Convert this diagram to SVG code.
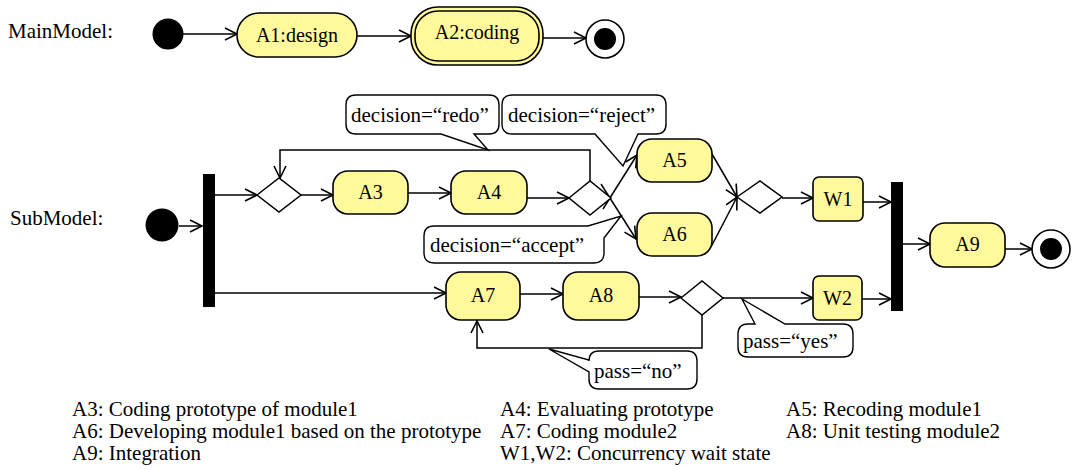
<svg xmlns="http://www.w3.org/2000/svg" width="1074" height="469" viewBox="0 0 1074 469">
<defs>
<marker id="arr" markerUnits="userSpaceOnUse" markerWidth="16" markerHeight="16" refX="13" refY="7" orient="auto">
<path d="M1,1 L13,7 L1,13" fill="none" stroke="#000" stroke-width="1.6"/>
</marker>
<style>
text{font-family:'Liberation Serif','Times New Roman',serif;fill:#000}
.lbl{font-size:20px;text-anchor:middle}
.node{fill:#fff99c;stroke:#000;stroke-width:1.6}
.c{fill:none;stroke:#000;stroke-width:1.5;marker-end:url(#arr)}
.dia{fill:#fff;stroke:#000;stroke-width:1.5}
.call{fill:#fff;stroke:#000;stroke-width:1.4}
.ct{font-size:21px}
.leg{font-size:21px}
</style>
</defs>
<rect width="1074" height="469" fill="#fff"/>

<text x="8" y="38" font-size="21">MainModel:</text>
<text x="10" y="225" font-size="21">SubModel:</text>

<g id="connectors">
<line class="c" x1="183" y1="34" x2="237" y2="34"/>
<line class="c" x1="357" y1="36" x2="411" y2="36"/>
<line class="c" x1="543" y1="38" x2="586" y2="38"/>
<line class="c" x1="179" y1="226" x2="202" y2="226"/>
<line class="c" x1="215" y1="195" x2="257" y2="195"/>
<line class="c" x1="301" y1="195" x2="333" y2="195"/>
<line class="c" x1="408" y1="193" x2="451" y2="193"/>
<line class="c" x1="527" y1="198" x2="569" y2="198"/>
<path class="c" d="M590,181 V150 H280 V178"/>
<line class="c" x1="603" y1="209" x2="637" y2="155"/>
<line class="c" x1="601" y1="184" x2="636" y2="239"/>
<line class="c" x1="712" y1="154" x2="737" y2="197"/>
<line class="c" x1="711" y1="247" x2="737" y2="197"/>
<line class="c" x1="782" y1="198" x2="813" y2="198"/>
<line class="c" x1="863" y1="202" x2="891" y2="202"/>
<line class="c" x1="903" y1="244" x2="930" y2="244"/>
<line class="c" x1="1005" y1="249" x2="1032" y2="249"/>
<line class="c" x1="215" y1="293" x2="446" y2="293"/>
<line class="c" x1="520" y1="294" x2="563" y2="294"/>
<line class="c" x1="639" y1="297" x2="681" y2="297"/>
<line class="c" x1="723" y1="298" x2="813" y2="298"/>
<line class="c" x1="862" y1="299" x2="891" y2="299"/>
<path class="c" d="M702,315 V348 H477 V321"/>
</g>

<g id="callouts">
<g id="c-redo">
<path class="call" d="M356,95 H489 Q499,95 499,105 V124 Q499,134 489,134 H474 L488,150 L441,134 H356 Q346,134 346,124 V105 Q346,95 356,95 Z"/>
<text class="ct" x="351" y="122">decision=“redo”</text>
</g>
<g id="c-reject">
<path class="call" d="M512,95 H656 Q666,95 666,105 V124 Q666,134 656,134 H638 L623,166 L595,134 H512 Q502,134 502,124 V105 Q502,95 512,95 Z"/>
<text class="ct" x="508" y="122">decision=“reject”</text>
</g>
<g id="c-accept">
<path class="call" d="M434,226 H588 L621,216 L604,238 V253 Q604,263 594,263 H434 Q424,263 424,253 V236 Q424,226 434,226 Z"/>
<text class="ct" x="430" y="252">decision=“accept”</text>
</g>
<g id="c-no">
<path class="call" d="M599,351 H687 Q697,351 697,361 V379 Q697,389 687,389 H599 Q589,389 589,379 V372 L549,349 L589,360 V361 Q589,351 599,351 Z"/>
<text class="ct" x="594" y="378">pass=“no”</text>
</g>
<g id="c-yes">
<path class="call" d="M748,324 H755 L742,299 L785,324 H843 Q853,324 853,334 V347 Q853,357 843,357 H748 Q738,357 738,347 V334 Q738,324 748,324 Z"/>
<text class="ct" x="743" y="348">pass=“yes”</text>
</g>
</g>

<g id="main-start"><circle cx="168" cy="34" r="15.5" fill="#000"/></g>
<g id="A1"><rect class="node" x="237" y="13" width="120" height="44" rx="22"/><text class="lbl" x="297" y="42">A1:design</text></g>
<g id="A2"><rect class="node" x="411" y="7" width="132" height="58" rx="27"/><rect class="node" x="415" y="11" width="124" height="50" rx="23"/><text class="lbl" x="477" y="39">A2:coding</text></g>
<g id="main-end"><circle cx="605" cy="39" r="19" fill="#fff" stroke="#000" stroke-width="1.6"/><circle cx="605" cy="39" r="11" fill="#000"/></g>
<g id="sub-start"><circle cx="162" cy="225" r="16.5" fill="#000"/></g>
<g id="fork"><rect x="203" y="174" width="12" height="133" fill="#000"/></g>
<g id="merge1"><polygon class="dia" points="257,195 279,178 301,195 279,212"/></g>
<g id="A3"><rect class="node" x="333" y="171" width="75" height="43" rx="15"/><text class="lbl" x="370.5" y="199">A3</text></g>
<g id="A4"><rect class="node" x="451" y="171" width="76" height="43" rx="15"/><text class="lbl" x="489" y="199">A4</text></g>
<g id="decision1"><polygon class="dia" points="569,198 590,181 611,198 590,215"/></g>
<g id="A5"><rect class="node" x="637" y="139" width="75" height="43" rx="15"/><text class="lbl" x="674.5" y="167">A5</text></g>
<g id="A6"><rect class="node" x="637" y="213" width="75" height="43" rx="15"/><text class="lbl" x="674.5" y="241">A6</text></g>
<g id="merge2"><polygon class="dia" points="737,197 760,181 782,197 760,213"/></g>
<g id="W1"><rect class="node" x="813" y="177" width="50" height="44" rx="6"/><text class="lbl" x="838" y="206">W1</text></g>
<g id="A7"><rect class="node" x="446" y="272" width="74" height="48" rx="15"/><text class="lbl" x="483" y="302">A7</text></g>
<g id="A8"><rect class="node" x="563" y="272" width="76" height="48" rx="15"/><text class="lbl" x="601" y="302">A8</text></g>
<g id="decision2"><polygon class="dia" points="681,298 702,281 723,298 702,315"/></g>
<g id="W2"><rect class="node" x="813" y="276" width="49" height="44" rx="6"/><text class="lbl" x="837.5" y="305">W2</text></g>
<g id="join"><rect x="891" y="182" width="12" height="129" fill="#000"/></g>
<g id="A9"><rect class="node" x="930" y="223" width="75" height="44" rx="15"/><text class="lbl" x="967.5" y="251">A9</text></g>
<g id="sub-end"><circle cx="1051" cy="249" r="19" fill="#fff" stroke="#000" stroke-width="1.6"/><circle cx="1051" cy="249" r="11" fill="#000"/></g>

<g id="legend">
<text class="leg" x="72" y="416">A3: Coding prototype of module1</text>
<text class="leg" x="72" y="438">A6: Developing module1 based on the prototype</text>
<text class="leg" x="72" y="460">A9: Integration</text>
<text class="leg" x="500" y="416">A4: Evaluating prototype</text>
<text class="leg" x="500" y="438">A7: Coding module2</text>
<text class="leg" x="500" y="460">W1,W2: Concurrency wait state</text>
<text class="leg" x="786" y="416">A5: Recoding module1</text>
<text class="leg" x="786" y="438">A8: Unit testing module2</text>
</g>
</svg>
